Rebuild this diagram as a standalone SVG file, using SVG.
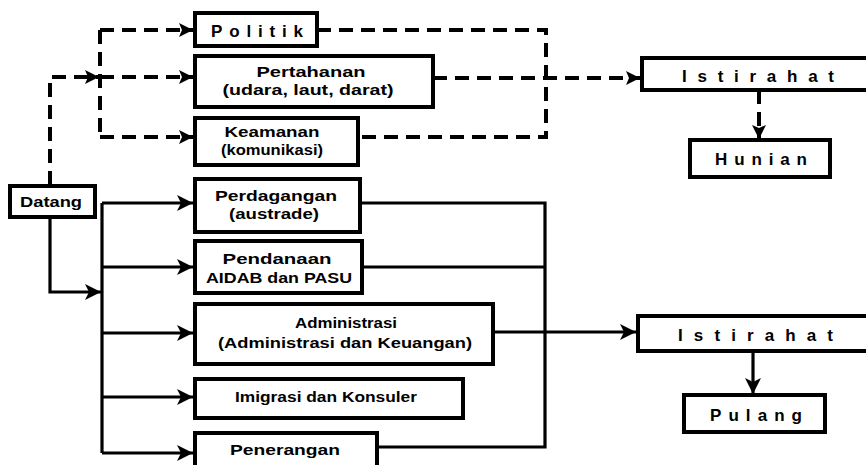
<svg xmlns="http://www.w3.org/2000/svg" width="866" height="465" viewBox="0 0 866 465">
<style>
.box{fill:#fff;stroke:#000;stroke-width:4}
.t{font-family:"Liberation Sans",Arial,sans-serif;font-weight:bold;font-size:14px;fill:#000;text-anchor:middle}
.sp{font-family:"Liberation Sans",Arial,sans-serif;font-weight:bold;font-size:17px;fill:#000}
.ln{fill:none;stroke:#000;stroke-width:3.2}
.ds{fill:none;stroke:#000;stroke-width:4;stroke-dasharray:14 8}
</style>
<defs>
<marker id="ah" markerUnits="userSpaceOnUse" markerWidth="17" markerHeight="16" refX="16" refY="8" orient="auto">
<path d="M0,0 L16,8 L0,16 L4,8 z" fill="#000"/>
</marker>
<marker id="ad" markerUnits="userSpaceOnUse" markerWidth="15" markerHeight="14" refX="14" refY="7" orient="auto">
<path d="M0,0 L14,7 L0,14 L3,7 z" fill="#000"/>
</marker>
</defs>
<rect width="866" height="465" fill="#fff"/>
<g id="connectors">
<path class="ds" d="M50,185 V77 H99" marker-end="url(#ad)"/>
<path class="ds" d="M100,30 V137"/>
<path class="ds" d="M100,30 H193" marker-end="url(#ad)"/>
<path class="ds" d="M100,77 H193" marker-end="url(#ad)"/>
<path class="ds" d="M100,137 H193" marker-end="url(#ad)"/>
<path class="ds" d="M317,30 H546 V137 H358"/>
<path class="ds" d="M433,78 H640" marker-end="url(#ad)"/>
<path class="ds" d="M759,90 V139" marker-end="url(#ad)"/>
<path class="ln" d="M50,217 V292 H101" marker-end="url(#ah)"/>
<path class="ln" d="M102,203 V453"/>
<path class="ln" d="M102,203 H193" marker-end="url(#ah)"/>
<path class="ln" d="M102,267 H193" marker-end="url(#ah)"/>
<path class="ln" d="M102,333 H193" marker-end="url(#ah)"/>
<path class="ln" d="M102,397 H193" marker-end="url(#ah)"/>
<path class="ln" d="M102,453 H193" marker-end="url(#ah)"/>
<path class="ln" d="M360,203 H545 V447 H377"/>
<path class="ln" d="M362,267 H545"/>
<path class="ln" d="M493,332 H636" marker-end="url(#ah)"/>
<path class="ln" d="M753,351 V394" marker-end="url(#ah)"/>
</g>
<g id="politik">
<rect class="box" x="195" y="13" width="122" height="33"/>
<text class="sp" x="211" y="37" textLength="92" lengthAdjust="spacing">Politik</text>
</g>
<g id="pertahanan">
<rect class="box" x="195" y="56" width="238" height="51"/>
<text class="t" x="311" y="77" textLength="109" lengthAdjust="spacingAndGlyphs">Pertahanan</text>
<text class="t" x="308" y="95" textLength="171" lengthAdjust="spacingAndGlyphs">(udara, laut, darat)</text>
</g>
<g id="keamanan">
<rect class="box" x="195" y="118" width="163" height="47"/>
<text class="t" x="272" y="137" textLength="95" lengthAdjust="spacingAndGlyphs">Keamanan</text>
<text class="t" x="272" y="155" textLength="102" lengthAdjust="spacingAndGlyphs">(komunikasi)</text>
</g>
<g id="istirahat1">
<rect class="box" x="642" y="58" width="230" height="32"/>
<text class="sp" x="682" y="82" textLength="152" lengthAdjust="spacing">Istirahat</text>
</g>
<g id="hunian">
<rect class="box" x="690" y="140" width="140" height="37"/>
<text class="sp" x="715" y="165" textLength="92" lengthAdjust="spacing">Hunian</text>
</g>
<g id="datang">
<rect class="box" x="10" y="186" width="85" height="31"/>
<text class="t" x="51" y="207" textLength="62" lengthAdjust="spacingAndGlyphs">Datang</text>
</g>
<g id="perdagangan">
<rect class="box" x="195" y="179" width="165" height="53"/>
<text class="t" x="276" y="201" textLength="122" lengthAdjust="spacingAndGlyphs">Perdagangan</text>
<text class="t" x="274" y="219" textLength="90" lengthAdjust="spacingAndGlyphs">(austrade)</text>
</g>
<g id="pendanaan">
<rect class="box" x="195" y="241" width="167" height="52"/>
<text class="t" x="277" y="264" textLength="109" lengthAdjust="spacingAndGlyphs">Pendanaan</text>
<text class="t" x="279" y="283" textLength="146" lengthAdjust="spacingAndGlyphs">AIDAB dan PASU</text>
</g>
<g id="administrasi">
<rect class="box" x="195" y="304" width="298" height="60"/>
<text class="t" x="346" y="328" textLength="102" lengthAdjust="spacingAndGlyphs">Administrasi</text>
<text class="t" x="345" y="348" textLength="254" lengthAdjust="spacingAndGlyphs">(Administrasi dan Keuangan)</text>
</g>
<g id="imigrasi">
<rect class="box" x="195" y="379" width="268" height="39"/>
<text class="t" x="326" y="402" textLength="182" lengthAdjust="spacingAndGlyphs">Imigrasi dan Konsuler</text>
</g>
<g id="penerangan">
<rect class="box" x="195" y="433" width="182" height="40"/>
<text class="t" x="285" y="455" textLength="110" lengthAdjust="spacingAndGlyphs">Penerangan</text>
</g>
<g id="istirahat2">
<rect class="box" x="638" y="316" width="234" height="35"/>
<text class="sp" x="678" y="341" textLength="155" lengthAdjust="spacing">Istirahat</text>
</g>
<g id="pulang">
<rect class="box" x="684" y="395" width="141" height="37"/>
<text class="sp" x="710" y="421" textLength="92" lengthAdjust="spacing">Pulang</text>
</g>
</svg>
